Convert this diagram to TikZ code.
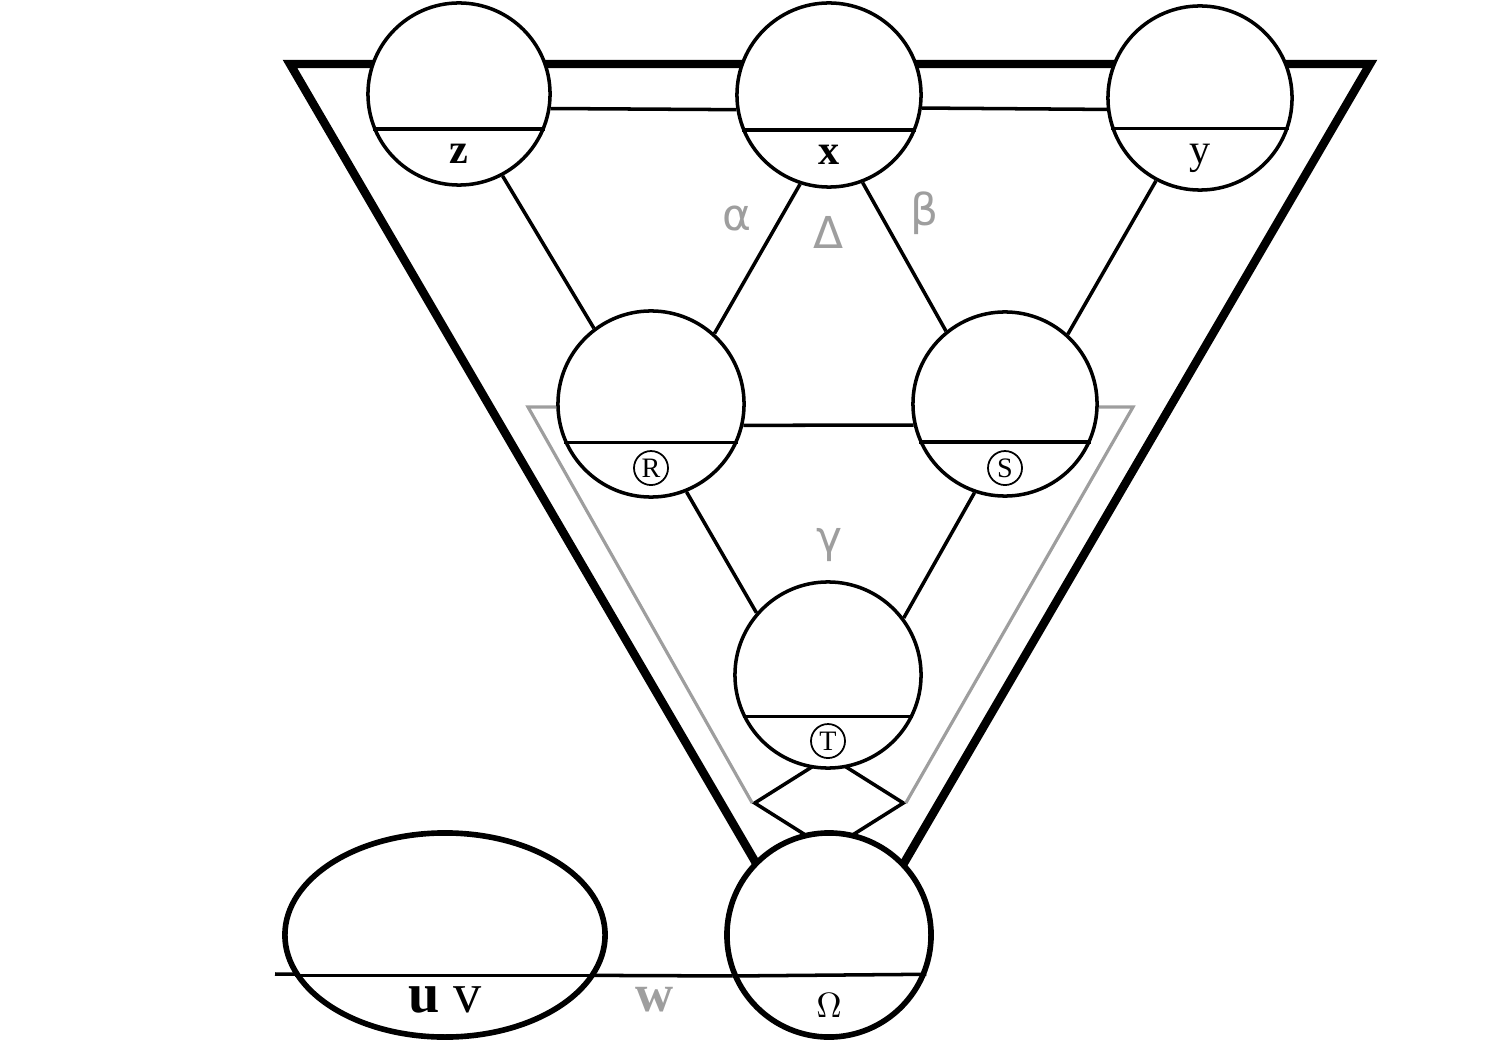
\documentclass[tikz,border=0pt]{standalone}
\usepackage{fontspec}
\setmainfont{Liberation Serif}
\newfontfamily\greekfont{DejaVu Sans}
\usetikzlibrary{shapes,positioning}
\pgfdeclarelayer{bg}
\pgfsetlayers{bg,main}

\tikzset{
    ball/.style={circle, draw, fill=white, line width=1pt, minimum size=1.84cm, inner sep=0pt},
    tag/.style={font=\bfseries\fontsize{12}{14}\selectfont, inner sep=0pt},
    ctag/.style={circle, draw, line width=0.5pt, inner sep=0pt, minimum size=0.34cm, font=\fontsize{8}{9}\selectfont},
    glabel/.style={text=black!38, font=\greekfont\fontsize{12.5}{14}\selectfont, inner sep=0pt},
    link/.style={line width=1pt},
    bigtri/.style={line width=2.4pt, line join=miter},
    graytri/.style={draw=black!38, line width=0.9pt, line join=miter}
}

\begin{document}
\begin{tikzpicture}[x=0.01cm, y=-0.01cm]
    \useasboundingbox (0,0) rectangle (1500,1040);

    % Nodes
    \node[ball, minimum size=1.82cm] (z) at (459,94) {};
    \node[ball] (x) at (829,95) {};
    \node[ball] (y) at (1200,98) {};
    \node[ball, minimum size=1.86cm] (R) at (651,404) {};
    \node[ball] (S) at (1005,404) {};
    \node[ball, minimum size=1.86cm] (T) at (828,675) {};
    \node[ball, minimum size=2.04cm, line width=1.6pt] (Om) at (829,935) {};
    \node[ellipse, draw, fill=white, line width=1.6pt, minimum width=3.2cm, minimum height=2.04cm, inner sep=0pt] (uv) at (445,935) {};

    % Dividers
    \foreach \n/\a in {z/22, x/22, y/19, R/24, S/24, T/26, Om/22.5}
        \draw[link] (\n.{-180+\a}) -- (\n.-\a);
    \draw[link] (uv.-165) -- (uv.-15);

    % Labels
    \node[tag] (zl) at ([yshift=-0.6cm]z.center) {z};
    \node[tag] (xl) at ([yshift=-0.6cm]x.center) {x};
    \node[tag, font=\fontsize{12}{14}\selectfont] (yl) at ([yshift=-0.6cm]y.center) {y};
    \node[ctag] (Rl) at ([yshift=-0.64cm]R.center) {R};
    \node[ctag] (Sl) at ([yshift=-0.64cm]S.center) {S};
    \node[ctag] (Tl) at ([yshift=-0.66cm]T.center) {T};
    \node[inner sep=0pt, font=\fontsize{10}{12}\selectfont] (Oml) at ([yshift=-0.7cm]Om.center) {$\Omega$};
    \node[inner sep=0pt, font=\fontsize{16}{18}\selectfont] (uvl) at ([yshift=-0.65cm]uv.center) {\textbf{u} v};

    \node[glabel] (al) at (737,218) {α};
    \node[glabel] (dl) at (829,232) {Δ};
    \node[glabel] (bl) at (925,213) {β};
    \node[glabel] (gl) at (829,545) {γ};
    \node[glabel, font=\bfseries\fontsize{15}{17}\selectfont] (wl) at (655,1000) {w};

    % Connectors
    \draw[link] (z.-62) -- (R.127);
    \draw[link] (x.-108) -- (R.48);
    \draw[link] (x.-69) -- (S.129);
    \draw[link] (y.-118) -- (S.48);
    \draw[link] (R.-13) -- (S.193);
    \draw[link] (R.-68) -- (T.139);
    \draw[link] (S.-109) -- (T.37);
    \draw[link] (z.-9) -- (x.189);
    \draw[link] (x.-8) -- (y.187);

    \begin{pgfonlayer}{bg}
        % Outer triangle
        \draw[bigtri] (290,64) -- (1370,64) -- (830,990) -- cycle;
        % Inner gray frame and diamond
        \node[diamond, draw, line width=1pt, minimum width=1.5cm, minimum height=0.95cm, inner sep=0pt] (dia) at (829,803) {};
        \coordinate (gtl) at (528,407);
        \coordinate (gtr) at (1133,407);
        \draw[graytri] (R.west |- gtl) -- (gtl) -- (dia.west);
        \draw[graytri] (S.east |- gtr) -- (gtr) -- (dia.east);
        % Bottom line
        \coordinate (dash) at (275,974);
        \draw[link] (dash) -- (Om.-157.5);
    \end{pgfonlayer}
\end{tikzpicture}
\end{document}
